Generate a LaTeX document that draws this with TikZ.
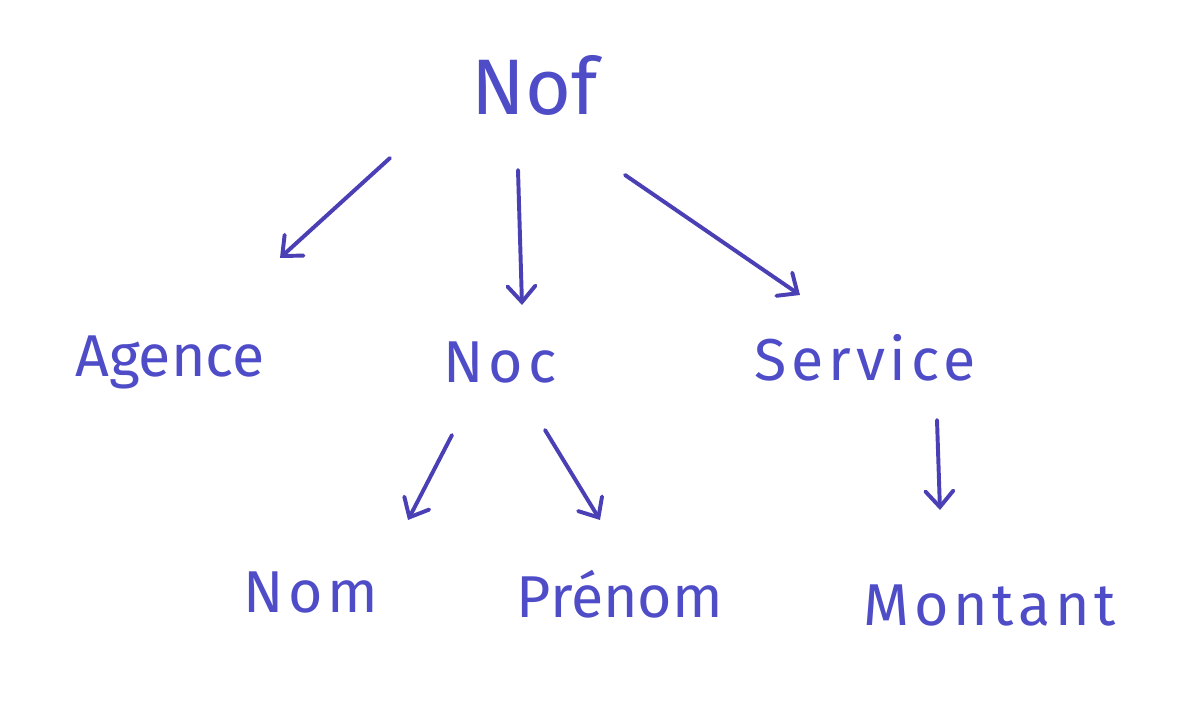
\documentclass[tikz,border=0pt]{standalone}
\usepackage{fontspec}
\setmainfont{Fira Sans}
\usetikzlibrary{arrows.meta}
\definecolor{cink}{HTML}{4F4CC8}
\definecolor{cline}{HTML}{4A3FB4}
\tikzset{
  every picture/.style={line width=2.8pt},
  word/.style={text=cink, anchor=base, inner sep=0pt, font=\fontsize{42}{48}\selectfont},
  wide/.style={word, font=\fontsize{42}{48}\selectfont\addfontfeatures{LetterSpace=8}},
  root/.style={word, font=\fontsize{56}{64}\selectfont},
  arrow/.style={draw=cline, line cap=round, -{Straight Barb[length=4mm, width=7mm, line cap=round]}},
}
\begin{document}
\begin{tikzpicture}[x=0.025cm, y=-0.025cm]
  \useasboundingbox (0,0) rectangle (1192,708);
  % words
  \node[root] (nof) at (535,115) {Nof};
  \node[word] (agence) at (170,377) {Agence};
  \node[wide] (noc) at (500,383) {Noc};
  \node[wide] (service) at (865,380) {Service};
  \node[wide] (nom) at (311,612) {Nom};
  \node[word] (prenom) at (620,617) {Prénom};
  \node[wide] (montant) at (990,625) {Montant};
  % arrows
  \draw[arrow] ([shift={(-145,43)}]nof.base) -- ([shift={(110,-119)}]agence.base);
  \draw[arrow] ([shift={(-17,55)}]nof.base) -- ([shift={(22,-78)}]noc.base);
  \draw[arrow] ([shift={(90,60)}]nof.base) -- ([shift={(-65,-85)}]service.base);
  \draw[arrow] ([shift={(-48,52)}]noc.base) -- ([shift={(97,-92)}]nom.base);
  \draw[arrow] ([shift={(45,47)}]noc.base) -- ([shift={(-20,-97)}]prenom.base);
  \draw[arrow] ([shift={(72,40)}]service.base) -- ([shift={(-50,-115)}]montant.base);
\end{tikzpicture}
\end{document}
